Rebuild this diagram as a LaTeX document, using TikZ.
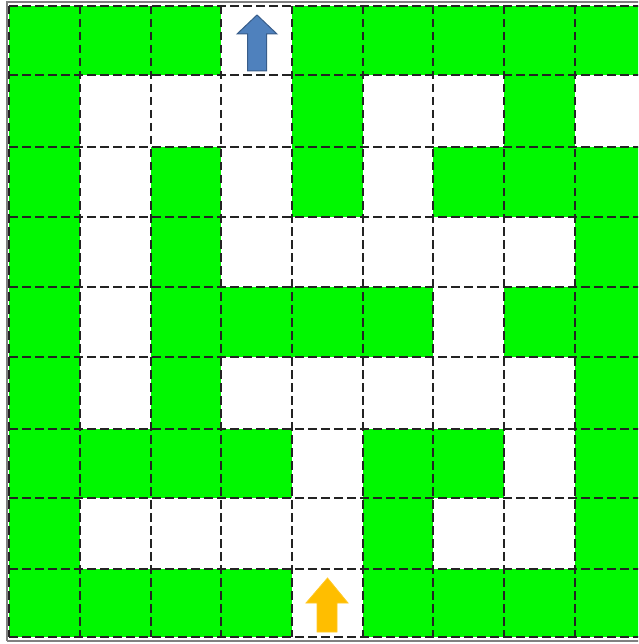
\documentclass[tikz,border=0pt]{standalone}
\definecolor{mazegreen}{RGB}{0,248,0}
\definecolor{gridgray}{RGB}{35,35,35}
\definecolor{framegray}{RGB}{128,128,128}
\definecolor{exitblue}{RGB}{79,129,189}
\definecolor{exitblueline}{RGB}{56,93,138}
\definecolor{startorange}{RGB}{255,190,0}
\tikzset{
  wall/.style={fill=mazegreen, draw=none},
  gridline/.style={draw=gridgray, line width=2.2pt, dash pattern=on 8.5pt off 4.5pt},
  frame/.style={draw=framegray, line width=1.6pt},
  exitarrow/.style={fill=exitblue, draw=exitblueline, line width=1pt, line join=miter},
  startarrow/.style={fill=startorange, draw=startorange!85!white, line width=0.8pt, line join=miter}
}
\begin{document}
\begin{tikzpicture}[x=1pt,y=-1pt]
\useasboundingbox (0,0) rectangle (638,644);
\clip (0,0) rectangle (638,644);
\def\XS{{9,80,151,221,292,363,433,504,575,645}}
\def\YS{{6,75,147,217,287,357,429,498,569,637}}
% green wall cells: row / list of columns
\foreach \r/\cols in {0/{0,1,2,4,5,6,7,8},1/{0,4,7},2/{0,2,4,6,7,8},3/{0,2,8},4/{0,2,3,4,5,7,8},5/{0,2,8},6/{0,1,2,3,5,6,8},7/{0,5,8},8/{0,1,2,3,5,6,7,8}}{
  \foreach \c in \cols {
    \pgfmathsetmacro\xa{\XS[\c]}
    \pgfmathsetmacro\xb{\XS[\c+1]}
    \pgfmathsetmacro\ya{\YS[\r]}
    \pgfmathsetmacro\yb{\YS[\r+1]}
    \path[wall] (\xa,\ya) rectangle (\xb,\yb);
  }
}
% dashed grid
\foreach \i in {0,...,9}{
  \pgfmathsetmacro\xv{\XS[\i]}
  \pgfmathsetmacro\yv{\YS[\i]}
  \draw[gridline] (\xv,6) -- (\xv,637);
  \draw[gridline] (9,\yv) -- (645,\yv);
}
% outer frame of the picture
\draw[frame] (7,641) -- (7,2) -- (640,2);
\draw[frame] (7,641) -- (640,641);
% exit arrow (blue, top)
\draw[exitarrow] (257,15) -- (277,34) -- (266.5,34) -- (266.5,71) -- (247.5,71) -- (247.5,34) -- (237,34) -- cycle;
% start arrow (orange, bottom)
\draw[startarrow] (327.5,578) -- (348,603) -- (337,603) -- (337,632) -- (317,632) -- (317,603) -- (306,603) -- cycle;
\end{tikzpicture}
\end{document}
